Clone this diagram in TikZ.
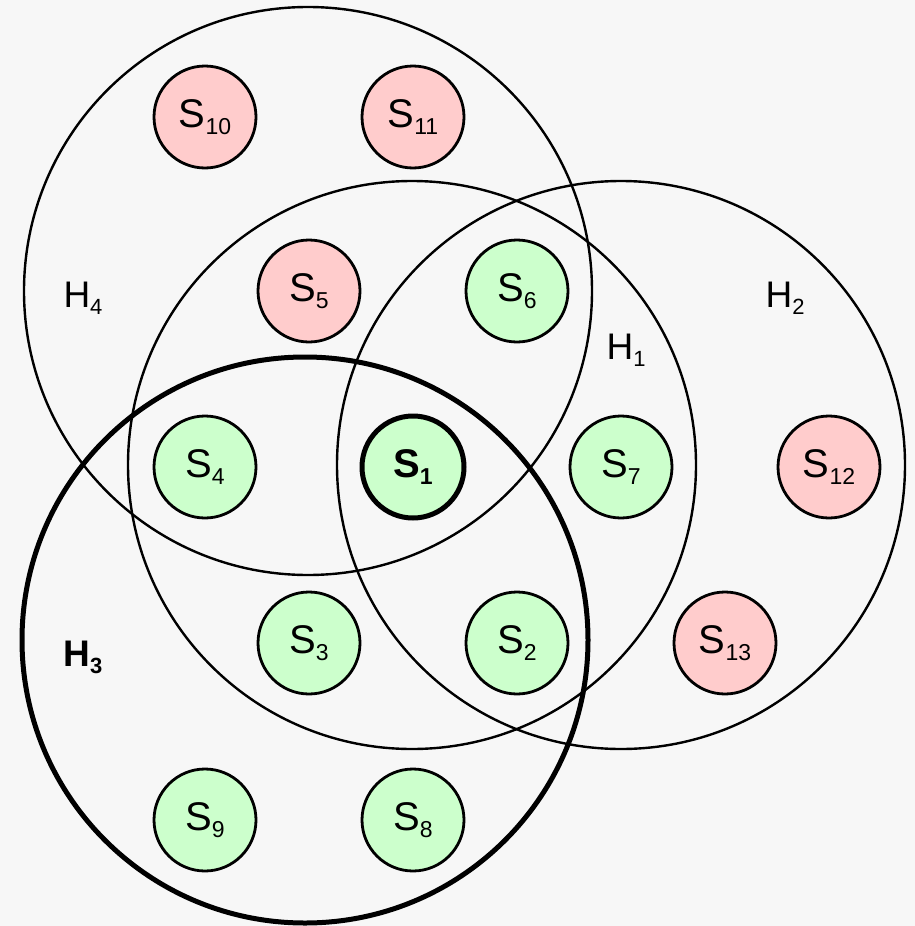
\documentclass[tikz,border=0pt]{standalone}
\usepackage{fontspec}
\setmainfont{Liberation Sans}
\newcommand{\mylab}[2]{\fontsize{40}{40}\selectfont #1\raisebox{-7pt}{\fontsize{23}{23}\selectfont #2}}
\newcommand{\myhlab}[2]{\fontsize{37}{37}\selectfont #1\raisebox{-7pt}{\fontsize{22}{22}\selectfont #2}}
\definecolor{bgc}{HTML}{F7F7F7}
\definecolor{pinkc}{HTML}{FFCCCC}
\definecolor{greenc}{HTML}{CCFFCC}
\tikzset{
  big/.style={draw=black, line width=2.4pt},
  bigthick/.style={draw=black, line width=5pt},
  sm/.style={circle, draw=black, line width=2.8pt, minimum size=102pt, inner sep=0pt},
  red/.style={sm, fill=pinkc},
  grn/.style={sm, fill=greenc},
  hl/.style={inner sep=0pt}
}
\begin{document}
\begin{tikzpicture}[x=1pt,y=-1pt]
\fill[bgc] (0,0) rectangle (915,926);
\useasboundingbox (0,0) rectangle (915,926);
% big circles
\draw[big] (308,291) circle[radius=284pt];
\draw[big] (412,465) circle[radius=284pt];
\draw[big] (621,465) circle[radius=284pt];
\draw[bigthick] (305,640) circle[radius=283pt];
% labels
\node[hl] (h4) at (83,298) {\myhlab{H}{4}};
\node[hl] (h2) at (785,298) {\myhlab{H}{2}};
\node[hl] (h1) at (626,350) {\myhlab{H}{1}};
\node[hl] (h3) at (83,657) {\bfseries\myhlab{H}{3}};
% small circles
\node[red] (s10) at (205,117) {\mylab{S}{10}};
\node[red] (s11) at (413,117) {\mylab{S}{11}};
\node[red] (s5) at (309,291) {\mylab{S}{5}};
\node[grn] (s6) at (517,291) {\mylab{S}{6}};
\node[grn] (s4) at (205,467) {\mylab{S}{4}};
\node[grn, line width=5pt] (s1) at (413,467) {\bfseries\mylab{S}{1}};
\node[grn] (s7) at (621,467) {\mylab{S}{7}};
\node[red] (s12) at (829,467) {\mylab{S}{12}};
\node[grn] (s3) at (309,643) {\mylab{S}{3}};
\node[grn] (s2) at (517,643) {\mylab{S}{2}};
\node[red] (s13) at (725,643) {\mylab{S}{13}};
\node[grn] (s9) at (205,820) {\mylab{S}{9}};
\node[grn] (s8) at (413,820) {\mylab{S}{8}};
\end{tikzpicture}
\end{document}
